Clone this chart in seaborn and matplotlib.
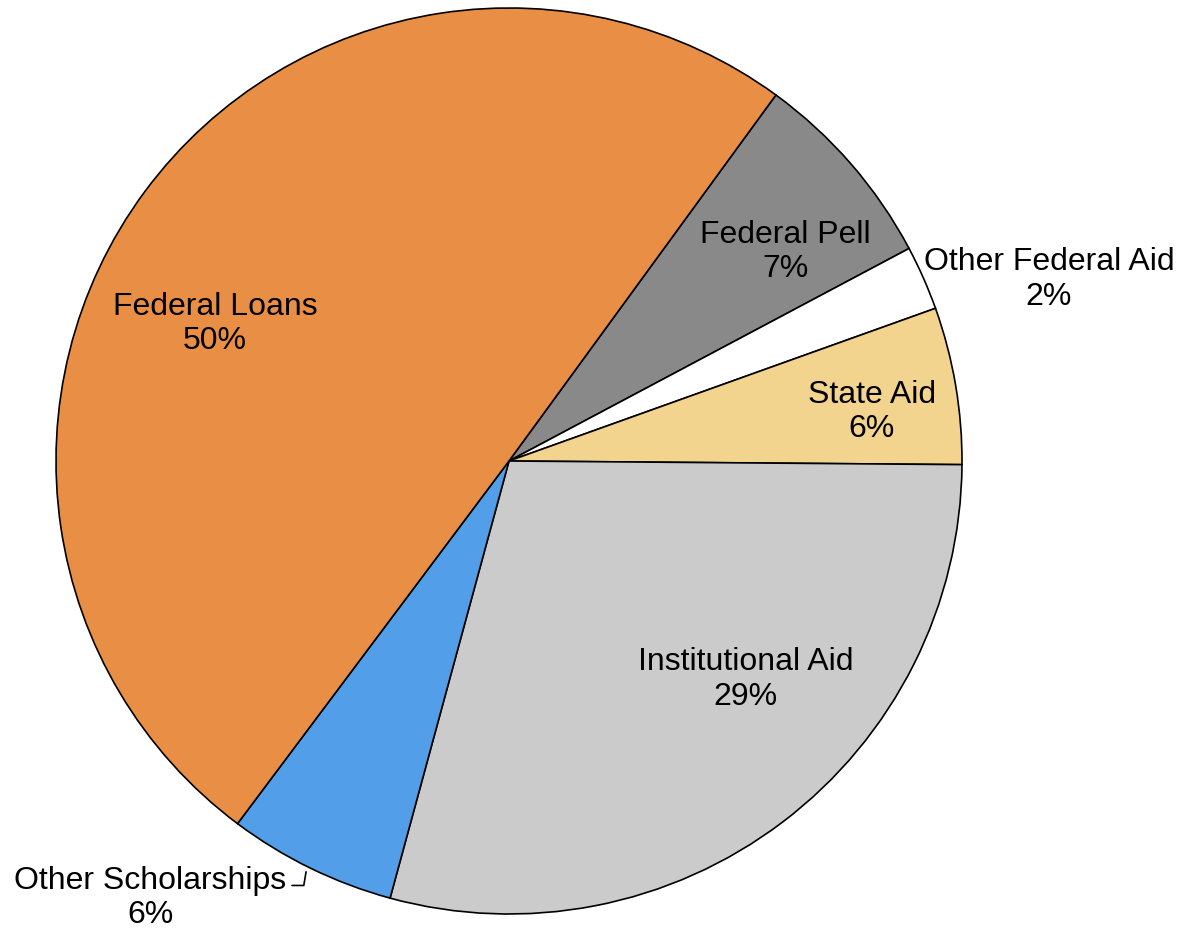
import matplotlib
matplotlib.use("Agg")
import matplotlib.pyplot as plt
import seaborn as sns

# Slice data, clockwise from the Federal Pell slice
categories = ["Federal Pell", "Other Federal Aid", "State Aid",
              "Institutional Aid", "Other Scholarships", "Federal Loans"]
shares = [7.2, 2.3, 5.6, 29.1, 6.0, 49.8]
colors = ["#898989", "#FFFFFF", "#F2D48E", "#CBCBCB", "#539EE8", "#E98E45"]

# label positions (data units, pie radius = 1)
label_pos = [(0.611, 0.461), (1.192, 0.400), (0.801, 0.108),
             (0.523, -0.483), (-0.792, -0.965), (-0.649, 0.302)]

sns.set_theme(style="white")
plt.rcParams["font.family"] = ["Liberation Sans", "DejaVu Sans"]

W, H = 1183, 932
cx, cy, r = 509, 461, 453
fig = plt.figure(figsize=(W / 100, H / 100), dpi=100)
ax = fig.add_axes([(cx - r) / W, (H - cy - r) / H, 2 * r / W, 2 * r / H])

ax.pie(shares, colors=colors, startangle=53.9, counterclock=False,
       radius=1, wedgeprops=dict(edgecolor="black", linewidth=1.2))
ax.set_xlim(-1, 1)
ax.set_ylim(-1, 1)
ax.set_aspect("equal")
ax.axis("off")

for name, val, (x, y) in zip(categories, shares, label_pos):
    ax.text(x, y, f"{name}\n{round(val)}%", ha="center", va="center",
            fontsize=23, linespacing=1.2, color="black", clip_on=False)

# small leader line for Other Scholarships
ax.plot([-0.479, -0.453, -0.448], [-0.937, -0.937, -0.907],
        color="black", linewidth=1.2, clip_on=False)

fig.savefig("out.png", dpi=100)
